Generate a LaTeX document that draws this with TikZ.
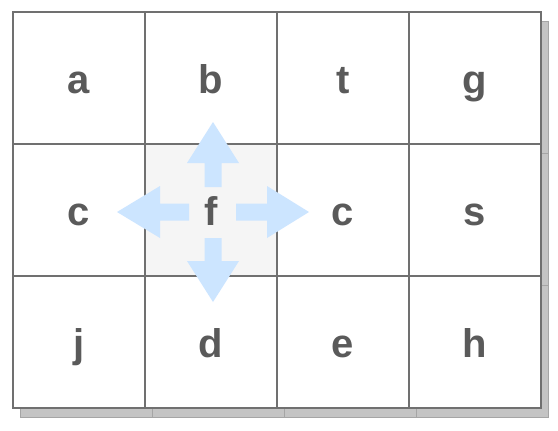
\documentclass[tikz,border=0pt]{standalone}
\usepackage{fontspec}
\setmainfont{Liberation Sans}
\usetikzlibrary{shadows}
\definecolor{gridline}{RGB}{112,112,112}
\definecolor{lettergray}{RGB}{90,90,90}
\definecolor{shadowgray}{RGB}{196,196,196}
\definecolor{shadowline}{RGB}{165,165,165}
\definecolor{midfill}{RGB}{245,245,245}
\definecolor{arrowblue}{RGB}{204,229,255}

\begin{document}
\begin{tikzpicture}[x=0.75pt,y=0.75pt,yscale=-1,xscale=1,
    cell/.style={draw=gridline, line width=2pt, fill=white, minimum width=99pt, minimum height=99pt,
      inner sep=0pt, text height=23.5pt, text depth=0pt, text=lettergray, font=\fontsize{30}{36}\selectfont\bfseries,
      drop shadow={shadow xshift=5.5pt, shadow yshift=-7pt, fill=shadowgray, draw=shadowline, line width=1pt, opacity=1}},
    midcell/.style={cell, fill=midfill},
    bluearrow/.style={fill=arrowblue, draw=none}]
    \useasboundingbox (0,0) rectangle (558,430);

    % Top row
    \node[cell] (a) at (79,78) {a};
    \node[cell] (b) at (211,78) {b};
    \node[cell] (t) at (343,78) {t};
    \node[cell] (g) at (475,78) {g};
    % Middle row
    \node[cell] (cl) at (79,210) {c};
    \node[midcell] (f) at (211,210) {};
    \node[cell] (cr) at (343,210) {c};
    \node[cell] (s) at (475,210) {s};
    % Bottom row
    \node[cell] (j) at (79,342) {j};
    \node[cell] (d) at (211,342) {d};
    \node[cell] (e) at (343,342) {e};
    \node[cell] (h) at (475,342) {h};

    %Shape: Up Arrow
    \fill[bluearrow] (204.5,187) -- (204.5,163) -- (187,163) -- (213,122) -- (239,163) -- (221.5,163) -- (221.5,187) -- cycle;
    %Shape: Down Arrow
    \fill[bluearrow] (204.5,238) -- (204.5,261) -- (187,261) -- (213,302) -- (239,261) -- (221.5,261) -- (221.5,238) -- cycle;
    %Shape: Left Arrow
    \fill[bluearrow] (189,203.5) -- (160,203.5) -- (160,186) -- (117,212) -- (160,238) -- (160,220.5) -- (189,220.5) -- cycle;
    %Shape: Right Arrow
    \fill[bluearrow] (236,203.5) -- (267,203.5) -- (267,186) -- (309,212) -- (267,238) -- (267,220.5) -- (236,220.5) -- cycle;

    % Text Node
    \node[inner sep=0pt, text height=23.5pt, text depth=0pt, text=lettergray, font=\fontsize{30}{36}\selectfont\bfseries] (flabel) at (f.center) {f};

\end{tikzpicture}
\end{document}
